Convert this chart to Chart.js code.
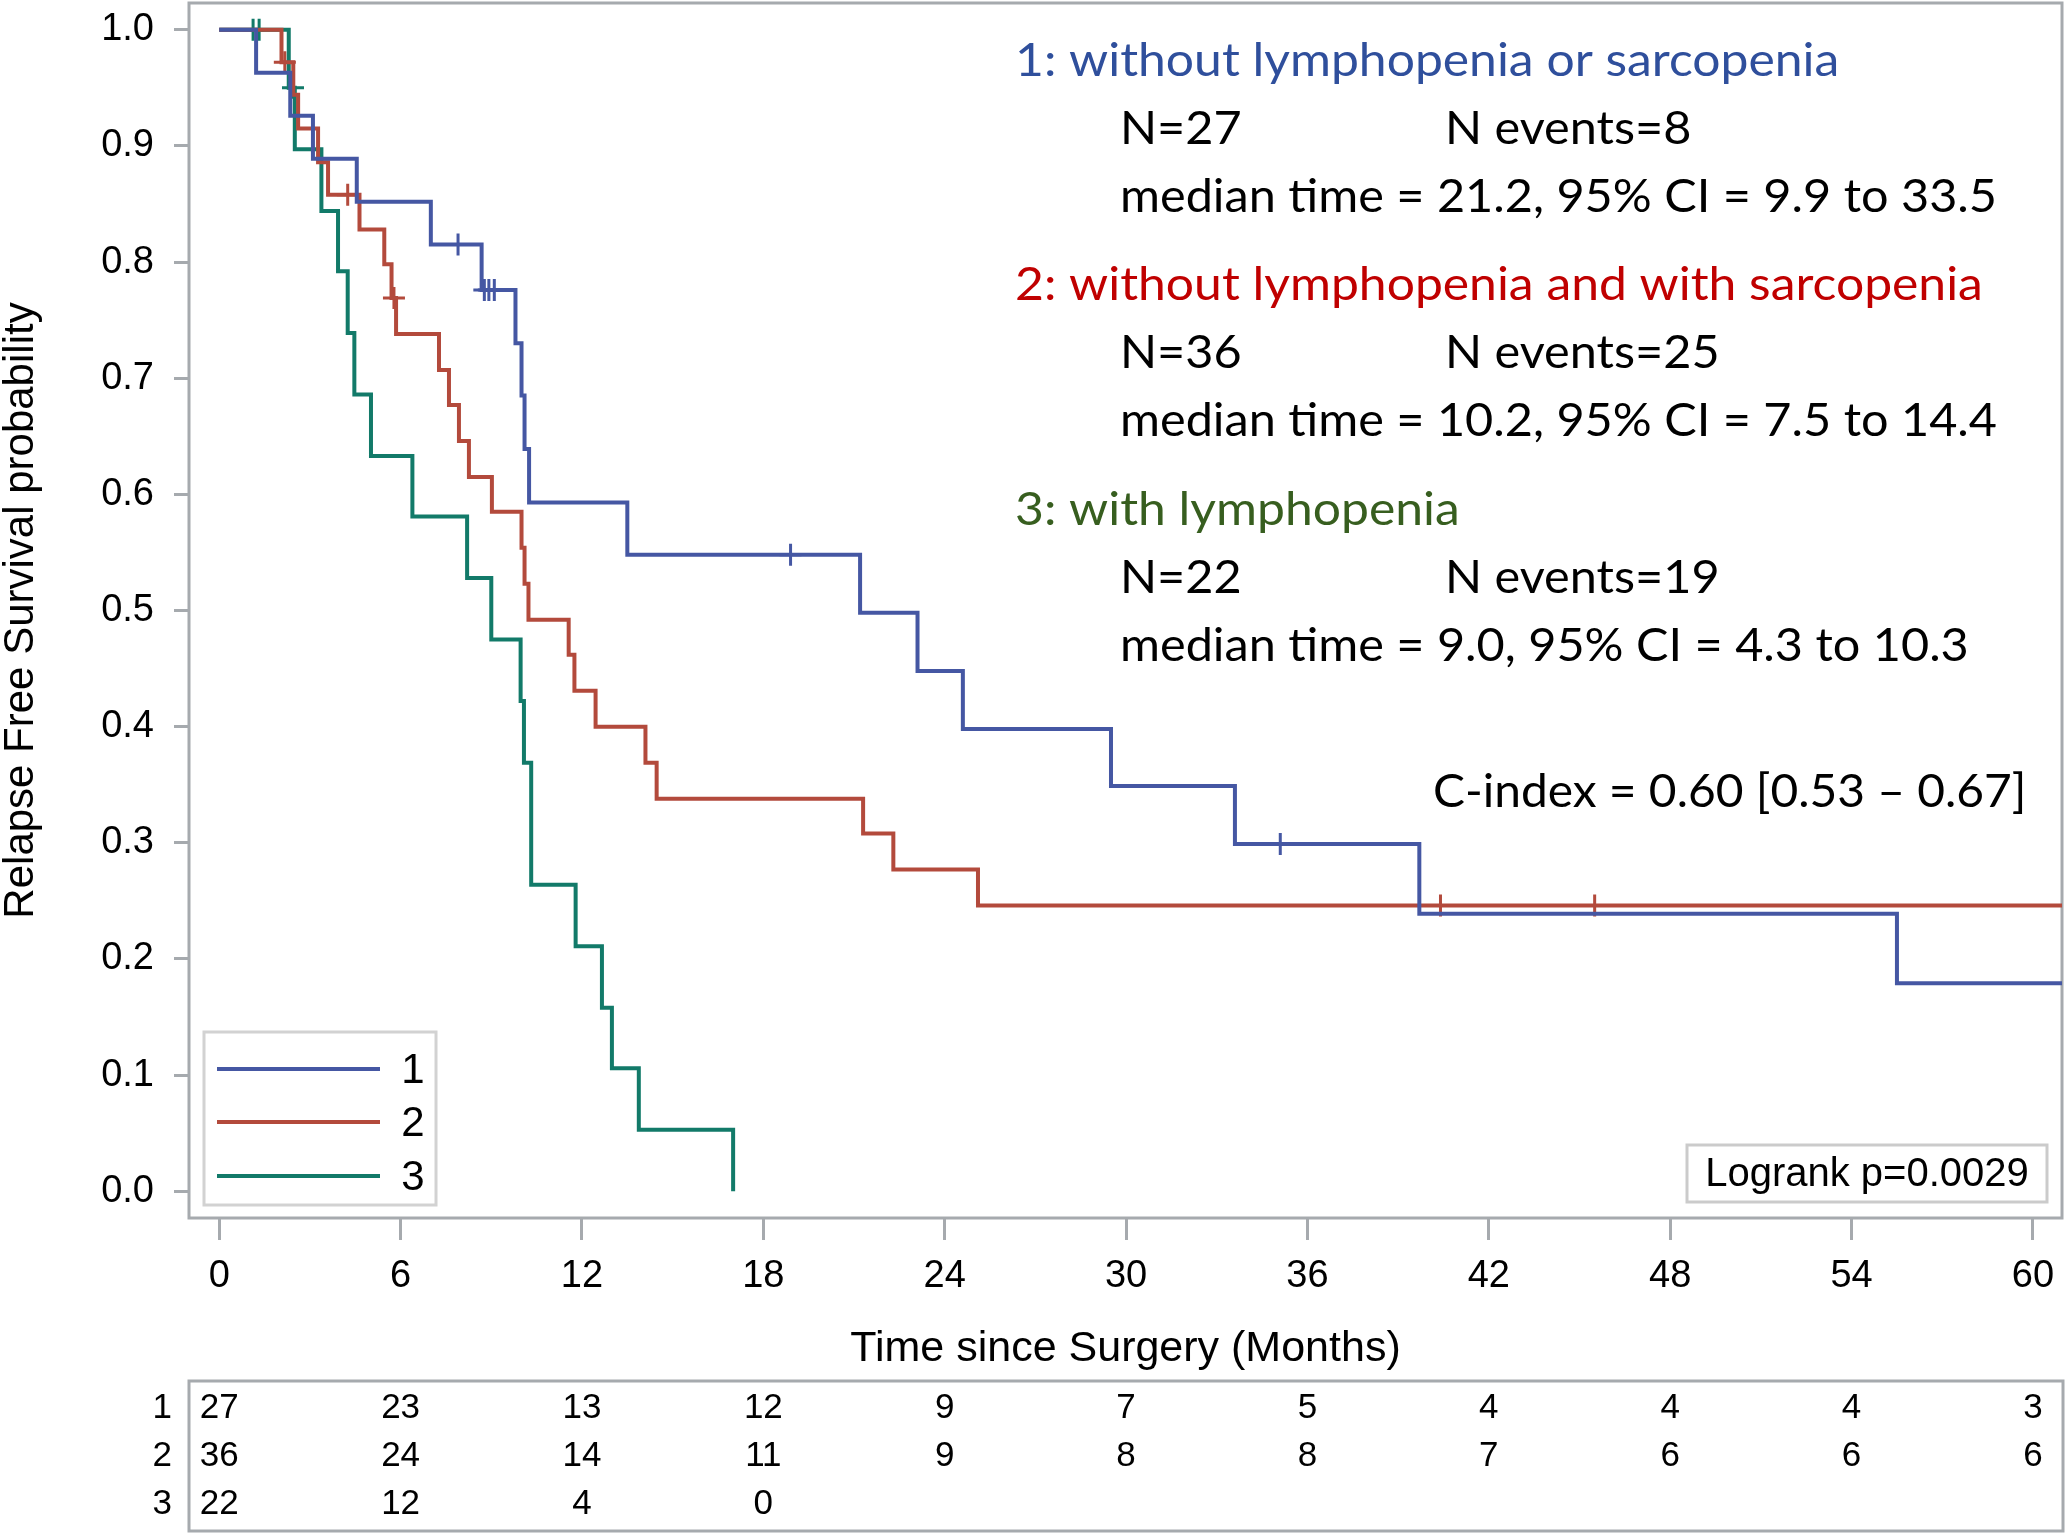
<!DOCTYPE html>
<html><head><meta charset="utf-8">
<script src="https://cdn.jsdelivr.net/npm/chart.js@4.4.1/dist/chart.umd.min.js"></script>
<style>html,body{margin:0;padding:0;background:#fff;}canvas{display:block;}</style>
</head><body>
<canvas id="c" width="2067" height="1534"></canvas>
<script>
// ---------- data ----------
const xTicks = [0, 6, 12, 18, 24, 30, 36, 42, 48, 54, 60];
const yTicks = [0, 0.1, 0.2, 0.3, 0.4, 0.5, 0.6, 0.7, 0.8, 0.9, 1.0];
const seriesNames = ['1', '2', '3'];

// Group 1 (blue)
const g1Time = [0, 1.22, 2.35, 3.1, 4.55, 7.0, 8.68, 9.8, 10.0, 10.1, 10.25, 13.5, 21.2, 23.1, 24.6, 29.5, 33.6, 39.7, 55.5, 61];
const g1Surv = [1, 0.963, 0.926, 0.889, 0.852, 0.815, 0.776, 0.730, 0.685, 0.639, 0.593, 0.548, 0.498, 0.448, 0.398, 0.349, 0.299, 0.239, 0.179, 0.179];
const c1Time = [7.9, 8.77, 8.92, 9.1, 18.9, 35.1];
const c1Surv = [0.815, 0.776, 0.776, 0.776, 0.548, 0.299];

// Group 2 (red)
const g2Time = [0, 2.06, 2.45, 2.61, 3.27, 3.6, 4.64, 5.46, 5.7, 5.85, 7.27, 7.6, 7.93, 8.26, 9.02, 10.0, 10.1, 10.23, 11.56, 11.75, 12.45, 14.1, 14.47, 21.3, 22.3, 25.1, 61];
const g2Surv = [1, 0.972, 0.944, 0.915, 0.886, 0.858, 0.828, 0.798, 0.769, 0.738, 0.707, 0.677, 0.646, 0.615, 0.585, 0.554, 0.523, 0.492, 0.462, 0.431, 0.400, 0.369, 0.338, 0.308, 0.277, 0.246, 0.246];
const c2Time = [2.17, 4.25, 5.78, 40.4, 45.5];
const c2Surv = [0.972, 0.858, 0.769, 0.246, 0.246];

// Group 3 (green)
const g3Time = [0, 2.3, 2.5, 3.38, 3.93, 4.25, 4.47, 5.02, 6.39, 8.2, 9.0, 9.97, 10.08, 10.32, 11.79, 12.66, 12.99, 13.88, 17.0];
const g3Surv = [1, 0.95, 0.897, 0.844, 0.792, 0.739, 0.686, 0.633, 0.581, 0.528, 0.475, 0.422, 0.369, 0.264, 0.211, 0.158, 0.106, 0.053, 0];
const c3Time = [1.12, 1.32, 2.44];
const c3Surv = [1, 1, 0.95];

// Numbers at risk
const riskTimes = [0, 6, 12, 18, 24, 30, 36, 42, 48, 54, 60];
const risk1 = [27, 23, 13, 12, 9, 7, 5, 4, 4, 4, 3];
const risk2 = [36, 24, 14, 11, 9, 8, 8, 7, 6, 6, 6];
const risk3 = [22, 12, 4, 0];

// Annotation text
const groupLabels = ['1: without lymphopenia or sarcopenia', '2: without lymphopenia and with sarcopenia', '3: with lymphopenia'];
const groupN = [27, 36, 22];
const groupEvents = [8, 25, 19];
const groupMedian = ['21.2', '10.2', '9.0'];
const groupCI = [['9.9', '33.5'], ['7.5', '14.4'], ['4.3', '10.3']];
const cIndexText = 'C-index = 0.60 [0.53 \u2013 0.67]';
const logrankText = 'Logrank p=0.0029';
const xTitle = 'Time since Surgery (Months)';
const yTitle = 'Relapse Free Survival probability';

// ---------- styles ----------
const lineColors = ['#4557A3', '#B34A3C', '#127A69'];
const textColors = ['#2F4F9C', '#C00000', '#375E1F'];
const GRAY = '#A6AAAE';
const ARIAL = "'Liberation Sans', Arial, sans-serif";
const CAL = "Lato, 'Open Sans', sans-serif";

const pts = (t, s) => t.map((v, i) => ({x: v, y: s[i]}));

const curveDs = (t, s, col) => ({
  type: 'line', data: pts(t, s), stepped: true, borderColor: col, borderWidth: 4,
  pointRadius: 0, fill: false, tension: 0
});
const censorDs = (t, s, col) => ({
  type: 'scatter', data: pts(t, s), showLine: false, pointStyle: 'cross',
  pointRadius: 11, pointHoverRadius: 11, borderColor: col, backgroundColor: col, borderWidth: 3
});

const decor = {
  id: 'decor',
  beforeDatasetsDraw(chart) {
    const {ctx, chartArea: a} = chart;
    ctx.save();
    ctx.strokeStyle = GRAY; ctx.lineWidth = 3;
    ctx.strokeRect(a.left, a.top, a.right - a.left, a.bottom - a.top);
    ctx.restore();
  },
  afterDraw(chart) {
    const ctx = chart.ctx;
    const xs = chart.scales.x;
    ctx.save();

    // legend box
    ctx.fillStyle = '#fff';
    ctx.fillRect(204, 1032, 232, 173);
    ctx.strokeStyle = '#D2D2D2'; ctx.lineWidth = 3;
    ctx.strokeRect(204, 1032, 232, 173);
    const legY = [1069, 1122, 1176];
    ctx.font = '42px ' + ARIAL; ctx.textAlign = 'center'; ctx.textBaseline = 'middle';
    seriesNames.forEach((n, i) => {
      ctx.strokeStyle = lineColors[i]; ctx.lineWidth = 4;
      ctx.beginPath(); ctx.moveTo(217, legY[i]); ctx.lineTo(380, legY[i]); ctx.stroke();
      ctx.fillStyle = '#000'; ctx.fillText(n, 413, legY[i] + 2);
    });

    // logrank box
    ctx.fillStyle = '#fff';
    ctx.fillRect(1687, 1145, 360, 57);
    ctx.strokeStyle = '#CBCBCB'; ctx.lineWidth = 3;
    ctx.strokeRect(1687, 1145, 360, 57);
    ctx.fillStyle = '#000'; ctx.font = '40px ' + ARIAL;
    ctx.fillText(logrankText, 1867, 1175);

    // annotation text (Calibri-like)
    ctx.font = '46px ' + CAL; ctx.textAlign = 'left'; ctx.textBaseline = 'alphabetic';
    const med = i => 'median time = ' + groupMedian[i] + ', 95% CI = ' + groupCI[i][0] + ' to ' + groupCI[i][1];
    const sx = 877 / ctx.measureText(med(0)).width;
    const put = (txt, x, y, col, k) => {
      ctx.save(); ctx.translate(x, y); ctx.scale(sx * (k || 1), 1); ctx.fillStyle = col; ctx.fillText(txt, 0, 0); ctx.restore();
    };
    const base = [76, 300, 525];
    for (let i = 0; i < 3; i++) {
      const b = base[i];
      put(groupLabels[i], 1015, b, textColors[i], 1.025);
      put('N=' + groupN[i], 1120, b + 68, '#000');
      put('N events=' + groupEvents[i], 1445, b + 68, '#000');
      put(med(i), 1120, b + 136, '#000');
    }
    put(cIndexText, 1433, 807, '#000', 0.985);

    // risk table
    ctx.strokeStyle = GRAY; ctx.lineWidth = 3;
    ctx.strokeRect(189, 1381, 1874, 150);
    ctx.font = '35px ' + ARIAL; ctx.fillStyle = '#000'; ctx.textBaseline = 'middle';
    const rows = [risk1, risk2, risk3];
    const rowY = [1408, 1456, 1504];
    rows.forEach((r, i) => {
      ctx.textAlign = 'right';
      ctx.fillText(seriesNames[i], 172, rowY[i]);
      ctx.textAlign = 'center';
      r.forEach((v, j) => ctx.fillText(String(v), xs.getPixelForValue(riskTimes[j]), rowY[i]));
    });
    ctx.restore();
  }
};

new Chart(document.getElementById('c'), {
  data: {
    datasets: [
      curveDs(g1Time, g1Surv, lineColors[0]),
      curveDs(g2Time, g2Surv, lineColors[1]),
      curveDs(g3Time, g3Surv, lineColors[2]),
      censorDs(c1Time, c1Surv, lineColors[0]),
      censorDs(c2Time, c2Surv, lineColors[1]),
      censorDs(c3Time, c3Surv, lineColors[2])
    ]
  },
  options: {
    responsive: false, devicePixelRatio: 1, animation: false,
    layout: {autoPadding: false, padding: {left: 0, right: 5, top: 3, bottom: 0}},
    plugins: {legend: {display: false}, tooltip: {enabled: false}},
    scales: {
      x: {
        type: 'linear', position: 'bottom', min: -1, max: 60.96,
        afterFit: s => { s.height = 316; s.paddingLeft = 0; s.paddingRight = 0; },
        afterBuildTicks: s => { s.ticks = xTicks.map(v => ({value: v})); },
        grid: {drawOnChartArea: false, drawTicks: true, tickLength: 22, color: GRAY, lineWidth: 3},
        border: {display: false},
        ticks: {font: {family: ARIAL, size: 38}, color: '#000', padding: 14, maxRotation: 0, autoSkip: false,
          callback: v => String(v)},
        title: {display: true, text: xTitle, font: {family: ARIAL, size: 43, lineHeight: 1}, color: '#000',
          padding: {top: 0, bottom: 163}}
      },
      y: {
        type: 'linear', position: 'left', min: -0.023, max: 1.023,
        afterFit: s => { s.width = 189; s.paddingTop = 0; s.paddingBottom = 0; },
        afterBuildTicks: s => { s.ticks = yTicks.map(v => ({value: v})); },
        grid: {drawOnChartArea: false, drawTicks: true, tickLength: 15, color: GRAY, lineWidth: 3},
        border: {display: false},
        ticks: {font: {family: ARIAL, size: 38}, color: '#000', padding: 20, callback: v => v.toFixed(1)},
        title: {display: true, text: yTitle, font: {family: ARIAL, size: 42, lineHeight: 1}, color: '#000',
          padding: {top: 0, bottom: 0}}
      }
    }
  },
  plugins: [decor]
});
</script>
</body></html>
